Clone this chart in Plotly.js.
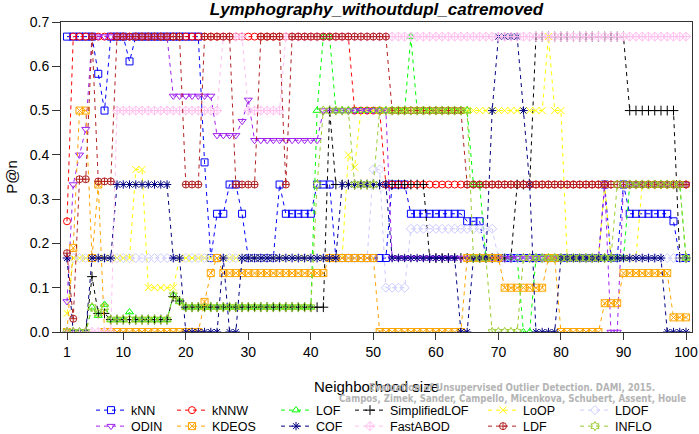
<!DOCTYPE html>
<html>
<head>
<meta charset="utf-8">
<script src="https://cdn.plot.ly/plotly-3.0.1.min.js"></script>
<style>html,body{margin:0;padding:0;background:#fff;}#chart{width:699px;height:434px;}</style>
</head>
<body>
<div id="chart"></div>
<script>
// Neighborhood sizes 1..100
var neighborhood = [];
for (var i = 1; i <= 100; i++) neighborhood.push(i);

var xTickVals = [1, 10, 20, 30, 40, 50, 60, 70, 80, 90, 100];

var kNN = [0.667,0.667,0.667,0.667,0.667,0.583,0.5,0.667,0.667,0.667,
0.611,0.667,0.667,0.667,0.667,0.667,0.667,0.667,0.667,0.667,
0.667,0.667,0.383,0.167,0.267,0.267,0.333,0.333,0.267,0.167,
0.167,0.167,0.167,0.167,0.333,0.267,0.267,0.267,0.267,0.267,
0.333,0.333,0.333,0.167,0.167,0.167,0.167,0.167,0.167,0.167,
0.167,0.167,0.333,0.333,0.333,0.267,0.267,0.267,0.267,0.267,
0.267,0.267,0.267,0.267,0.25,0.25,0.25,0.167,0.167,0.167,
0.167,0.167,0.167,0.167,0.167,0.167,0.167,0.167,0.167,0.167,
0.167,0.167,0.167,0.167,0.167,0.167,0.333,0.167,0.167,0.333,
0.267,0.267,0.267,0.267,0.267,0.267,0.267,0.25,0.167,0.167];

var kNNW = [0.25,0.667,0.667,0.667,0.667,0.667,0.667,0.667,0.667,0.667,
0.667,0.667,0.667,0.667,0.667,0.667,0.667,0.667,0.667,0.667,
0.667,0.667,0.667,0.667,0.667,0.667,0.667,0.667,0.667,0.667,
0.667,0.667,0.667,0.667,0.667,0.667,0.667,0.667,0.667,0.667,
0.667,0.667,0.667,0.667,0.667,0.667,0.5,0.5,0.5,0.5,
0.5,0.333,0.333,0.333,0.333,0.333,0.333,0.333,0.333,0.333,
0.333,0.333,0.333,0.333,0.333,0.333,0.333,0.333,0.333,0.333,
0.333,0.333,0.333,0.333,0.333,0.333,0.333,0.333,0.333,0.333,
0.333,0.333,0.333,0.333,0.333,0.333,0.333,0.333,0.333,0.333,
0.333,0.333,0.333,0.333,0.333,0.333,0.333,0.333,0.333,0.333];

var LOF = [0,0,0,0,0.056,0.037,0.062,0.028,0.028,0.028,
0.045,0.028,0.028,0.028,0.028,0.028,0.028,0.083,0.069,0.056,
0.056,0.056,0.056,0.056,0.056,0.056,0.056,0.056,0.056,0.056,
0.056,0.056,0.056,0.056,0.056,0.056,0.056,0.056,0.056,0.056,
0.5,0.667,0.667,0.5,0.5,0.5,0.5,0.5,0.5,0.5,
0.5,0.5,0.5,0.5,0.5,0.667,0.5,0.5,0.5,0.5,
0.5,0.5,0.5,0.5,0.5,0.333,0.333,0.167,0.167,0.167,
0.167,0.167,0.167,0,0,0.167,0.167,0.167,0.167,0.167,
0.167,0.167,0.167,0.167,0.167,0.167,0.167,0.167,0.167,0.167,
0.333,0.333,0.333,0.333,0.333,0.333,0.333,0.333,0.333,0.167];

var SimplifiedLOF = [0,0,0,0,0.125,0.042,0.042,0.028,0.028,0.028,
0.028,0.028,0.028,0.028,0.028,0.028,0.028,0.08,0.07,0.056,
0.056,0.056,0.056,0.056,0.056,0.056,0.056,0.056,0.056,0.056,
0.056,0.056,0.056,0.056,0.056,0.056,0.056,0.056,0.056,0.056,
0.056,0.056,0.5,0.333,0.333,0.333,0.333,0.333,0.333,0.333,
0.333,0.333,0.333,0.333,0.333,0.333,0.333,0.333,0.167,0.167,
0.167,0.167,0.167,0.167,0.167,0.167,0.167,0.167,0.167,0.167,
0.167,0.167,0.333,0.333,0.333,0.667,0.667,0.667,0.667,0.667,
0.667,0.667,0.667,0.667,0.667,0.667,0.667,0.667,0.667,0.667,
0.5,0.5,0.5,0.5,0.5,0.5,0.5,0.5,0.167,0.167];

var LoOP = [0.042,0.167,0.167,0.167,0.167,0.167,0.167,0.167,0.167,0.167,
0.167,0.367,0.367,0.1,0.1,0.1,0.1,0.1,0.167,0.167,
0.167,0.167,0.167,0.167,0.167,0.167,0.167,0.167,0.167,0.167,
0.167,0.167,0.167,0.167,0.167,0.167,0.167,0.167,0.167,0.167,
0.167,0.167,0.167,0.167,0.167,0.4,0.372,0.5,0.5,0.5,
0.5,0.5,0.5,0.5,0.5,0.5,0.5,0.5,0.5,0.5,
0.5,0.5,0.5,0.5,0.5,0.5,0.5,0.5,0.5,0.5,
0.5,0.5,0.5,0.5,0.5,0.5,0.5,0.667,0.5,0.5,
0.167,0.167,0.167,0.167,0.167,0.167,0.333,0.167,0.167,0.167,
0.167,0.167,0.333,0.333,0.333,0.333,0.333,0.333,0.333,0.333];

var LDOF = [0.167,0.167,0.167,0.167,0.167,0.167,0.167,0.167,0.167,0.167,
0.167,0.167,0.167,0.167,0.167,0.167,0.167,0.167,0.167,0.167,
0.167,0.167,0.167,0.167,0.167,0.167,0.167,0.167,0.167,0.167,
0.167,0.167,0.167,0.167,0.167,0.167,0.167,0.167,0.167,0.167,
0.167,0.167,0.167,0.167,0.167,0.167,0.167,0.167,0.167,0.367,
0.367,0.1,0.1,0.1,0.1,0.233,0.233,0.233,0.233,0.233,
0.233,0.233,0.233,0.233,0.233,0.233,0.233,0.233,0.233,0.167,
0.167,0.167,0.167,0.167,0.167,0.167,0.167,0.167,0.167,0.167,
0.167,0.167,0.167,0.167,0.167,0.167,0.167,0.167,0.167,0.167,
0.167,0.167,0.167,0.167,0.167,0.167,0.167,0.167,0.167,0.167];

var ODIN = [0.069,0.333,0.4,0.458,0.667,0.667,0.667,0.667,0.667,0.667,
0.667,0.667,0.667,0.667,0.667,0.667,0.667,0.533,0.533,0.533,
0.533,0.533,0.533,0.533,0.444,0.444,0.444,0.444,0.476,0.524,
0.433,0.433,0.433,0.433,0.433,0.433,0.433,0.433,0.433,0.433,
0.433,0.5,0.5,0.5,0.5,0.5,0.5,0.5,0.5,0.5,
0.5,0.5,0.167,0.167,0.167,0.167,0.167,0.167,0.167,0.167,
0.167,0.167,0.167,0.167,0.167,0.167,0.167,0.167,0.167,0.167,
0.167,0.167,0.167,0.167,0.167,0.167,0.167,0.167,0.167,0.167,
0.167,0.167,0.167,0.167,0.167,0.167,0.333,0,0,0.333,
0.333,0.333,0.333,0.333,0.333,0.333,0.333,0.333,0.333,0.333];

var KDEOS = [0,0.19,0.5,0.5,0.167,0.333,0,0,0,0,
0,0,0,0,0,0,0,0,0,0,
0,0,0.068,0.133,0.167,0.133,0.133,0.133,0.133,0.133,
0.133,0.133,0.133,0.133,0.133,0.133,0.133,0.133,0.133,0.133,
0.133,0.133,0.167,0.167,0.167,0.167,0.167,0.167,0.167,0.167,
0,0,0,0,0,0,0,0,0,0,
0,0,0,0,0.167,0.167,0.167,0.167,0.167,0.167,
0.1,0.1,0.1,0.1,0.1,0.1,0.1,0.167,0.167,0,
0,0,0,0,0,0,0.065,0.065,0.065,0.133,
0.133,0.133,0.133,0.133,0.133,0.133,0.133,0.033,0.033,0.033];

var COF = [0.167,0,0,0,0.167,0.167,0.167,0.167,0.333,0.333,
0.333,0.333,0.333,0.333,0.333,0.333,0.333,0.167,0.167,0,
0,0,0,0,0,0.167,0,0,0.167,0.167,
0.167,0.167,0.167,0.167,0.167,0.167,0.167,0.167,0.167,0.167,
0.167,0.167,0.167,0.167,0.333,0.333,0.333,0.333,0.333,0.333,
0.333,0.333,0.167,0.167,0.167,0.167,0.167,0.167,0.167,0.167,
0.167,0.167,0.167,0,0,0.167,0.167,0.167,0.5,0.667,
0.667,0.667,0.667,0.5,0.333,0,0,0,0,0.167,
0.167,0.167,0.167,0.167,0.167,0.167,0.167,0.167,0.167,0.167,
0.167,0.167,0.167,0.167,0.167,0.167,0,0,0,0];

var FastABOD = [0,0,0,0,0,0,0,0,0.5,0.5,
0.5,0.5,0.5,0.5,0.5,0.5,0.5,0.5,0.5,0.5,
0.5,0.5,0.5,0.5,0.5,0.667,0.667,0.667,0.667,0.5,
0.5,0.5,0.5,0.5,0.5,0.667,0.667,0.667,0.667,0.667,
0.667,0.667,0.667,0.667,0.667,0.667,0.667,0.667,0.667,0.667,
0.667,0.667,0.667,0.667,0.667,0.667,0.667,0.667,0.667,0.667,
0.667,0.667,0.667,0.667,0.667,0.667,0.667,0.667,0.667,0.667,
0.667,0.667,0.667,0.667,0.667,0.667,0.667,0.667,0.667,0.667,
0.667,0.667,0.667,0.667,0.667,0.667,0.667,0.667,0.667,0.667,
0.667,0.667,0.667,0.667,0.667,0.667,0.667,0.667,0.667,0.667];

var LDF = [0.178,0.03,0.345,0.345,0.667,0.34,0.34,0.34,0.667,0.667,
0.667,0.667,0.667,0.667,0.667,0.667,0.667,0.667,0.667,0.333,
0.333,0.333,0.667,0.667,0.667,0.667,0.667,0.333,0.333,0.333,
0.333,0.667,0.667,0.667,0.667,0.333,0.667,0.667,0.667,0.667,
0.667,0.667,0.667,0.667,0.667,0.667,0.667,0.667,0.667,0.667,
0.667,0.667,0.5,0.5,0.5,0.5,0.5,0.5,0.5,0.5,
0.5,0.5,0.5,0.5,0.333,0.333,0.333,0.333,0.333,0.333,
0.333,0.333,0.333,0.333,0.333,0.333,0.333,0.333,0.333,0.333,
0.333,0.333,0.333,0.333,0.333,0.333,0.333,0.333,0.333,0.333,
0.333,0.333,0.333,0.333,0.333,0.333,0.333,0.333,0.333,0.333];

var INFLO = [0,0,0,0,0.056,0.042,0.056,0.028,0.028,0.028,
0.028,0.028,0.028,0.028,0.028,0.028,0.028,0.083,0.069,0.056,
0.056,0.056,0.056,0.056,0.056,0.056,0.056,0.056,0.056,0.056,
0.056,0.056,0.056,0.056,0.056,0.056,0.056,0.056,0.056,0.056,
0.333,0.5,0.5,0.5,0.5,0.5,0.333,0.333,0.333,0.333,
0.5,0.5,0.5,0.5,0.5,0.5,0.5,0.5,0.5,0.5,
0.5,0.5,0.5,0.5,0.5,0.167,0.167,0.167,0,0,
0,0,0,0.167,0.167,0.167,0.167,0.167,0.167,0.167,
0.167,0.167,0.167,0.167,0.167,0.167,0.167,0.167,0.333,0.333,
0.333,0.333,0.333,0.333,0.333,0.333,0.333,0.333,0.333,0.167];

var seriesNames = ['kNN','kNNW','LOF','SimplifiedLOF','LoOP','LDOF','ODIN','KDEOS','COF','FastABOD','LDF','INFLO'];
var seriesValues = [kNN, kNNW, LOF, SimplifiedLOF, LoOP, LDOF, ODIN, KDEOS, COF, FastABOD, LDF, INFLO];
var seriesColors = ['#0000ff','#ff0000','#00ff00','#000000','#ffff00','#ccccff','#a020f0','#ffa500','#000080','#ffc0f0','#b22222','#9acd32'];
var seriesSymbols = ['square-open','circle-open','triangle-up-open','cross-thin-open','x-thin-open','diamond-open','triangle-down-open','square-x-open','asterisk-open','diamond-cross-open','circle-cross-open','hexagram-open'];

// legend placement (column, row)
var legendCol = [0,1,2,3,4,5,0,1,2,3,4,5];
var legendRow = [0,0,0,0,0,0,1,1,1,1,1,1];
var colTextPx = [131, 212, 316, 390, 523, 615];
var rowPx = [410, 426];

var plotL = 61, plotR = 692, plotT = 22, plotB = 332;
var pw = plotR - plotL, ph = plotB - plotT;

var creditFont = {family: 'DejaVu Sans Condensed, Liberation Sans Narrow, sans-serif', size: 9.6, weight: 'bold', color: '#b4b4b4'};

var traces = [];
var layout = {
  width: 699, height: 434,
  margin: {l: plotL, r: 699 - plotR, t: plotT, b: 434 - plotB, pad: 0, autoexpand: false},
  paper_bgcolor: '#ffffff', plot_bgcolor: '#ffffff',
  font: {family: 'Liberation Sans, Arial, sans-serif', color: '#000000'},
  showlegend: true,
  title: {
    text: 'Lymphography_withoutdupl_catremoved',
    font: {family: 'Liberation Sans, Arial, sans-serif', size: 17, weight: 'bold', style: 'italic', color: '#000'},
    x: 0.5, xref: 'paper', xanchor: 'center',
    y: 1 - 9 / 434, yref: 'container', yanchor: 'middle'
  },
  xaxis: {
    range: [0.04, 100.96], tickvals: xTickVals, ticktext: xTickVals.map(String),
    ticks: 'outside', ticklen: 7, tickwidth: 1, tickcolor: '#333',
    tickfont: {size: 14, color: '#000'},
    showline: true, mirror: true, linecolor: '#333', linewidth: 1,
    showgrid: false, zeroline: false,
    title: {text: 'Neighborhood size', font: {size: 15, color: '#000'}, standoff: 22}
  },
  yaxis: {
    range: [0, 0.7], tickvals: [0,0.1,0.2,0.3,0.4,0.5,0.6,0.7], tickformat: '.1f',
    ticks: 'outside', ticklen: 8, tickwidth: 1, tickcolor: '#333',
    tickfont: {size: 14, color: '#000'},
    showline: true, mirror: true, linecolor: '#333', linewidth: 1,
    showgrid: false, zeroline: false,
    title: {text: 'P@n', font: {size: 15, color: '#000'}, standoff: 8}
  },
  annotations: [
    {text: 'Evaluation of Unsupervised Outlier Detection. DAMI, 2015.', xref: 'paper', yref: 'paper',
     x: (512 - plotL) / pw, y: (plotB - 387) / ph, xanchor: 'center', yanchor: 'middle', showarrow: false,
     font: creditFont},
    {text: 'Campos, Zimek, Sander, Campello, Micenkova, Schubert, Assent, Houle', xref: 'paper', yref: 'paper',
     x: (512 - plotL) / pw, y: (plotB - 398) / ph, xanchor: 'center', yanchor: 'middle', showarrow: false,
     font: creditFont}
  ]
};

for (var s = 0; s < seriesNames.length; s++) {
  var legId = s === 0 ? 'legend' : 'legend' + (s + 1);
  traces.push({
    type: 'scatter', mode: 'lines+markers', name: seriesNames[s],
    x: neighborhood, y: seriesValues[s],
    line: {color: seriesColors[s], width: 1, dash: '4px,4px'},
    marker: {symbol: seriesSymbols[s], size: 7, color: seriesColors[s], line: {color: seriesColors[s], width: 1}},
    legend: legId, showlegend: true, cliponaxis: true
  });
  var x0 = colTextPx[legendCol[s]] - 40;
  layout[legId] = {
    x: (x0 - plotL) / pw, xanchor: 'left', xref: 'paper',
    y: (plotB - (rowPx[legendRow[s]] - 14.5)) / ph, yanchor: 'top', yref: 'paper',
    bgcolor: 'rgba(0,0,0,0)', borderwidth: 0, itemwidth: 30,
    font: {size: 12.5, color: '#000'}, orientation: 'v'
  };
}

Plotly.newPlot('chart', traces, layout, {staticPlot: true, displayModeBar: false});
</script>
</body>
</html>
